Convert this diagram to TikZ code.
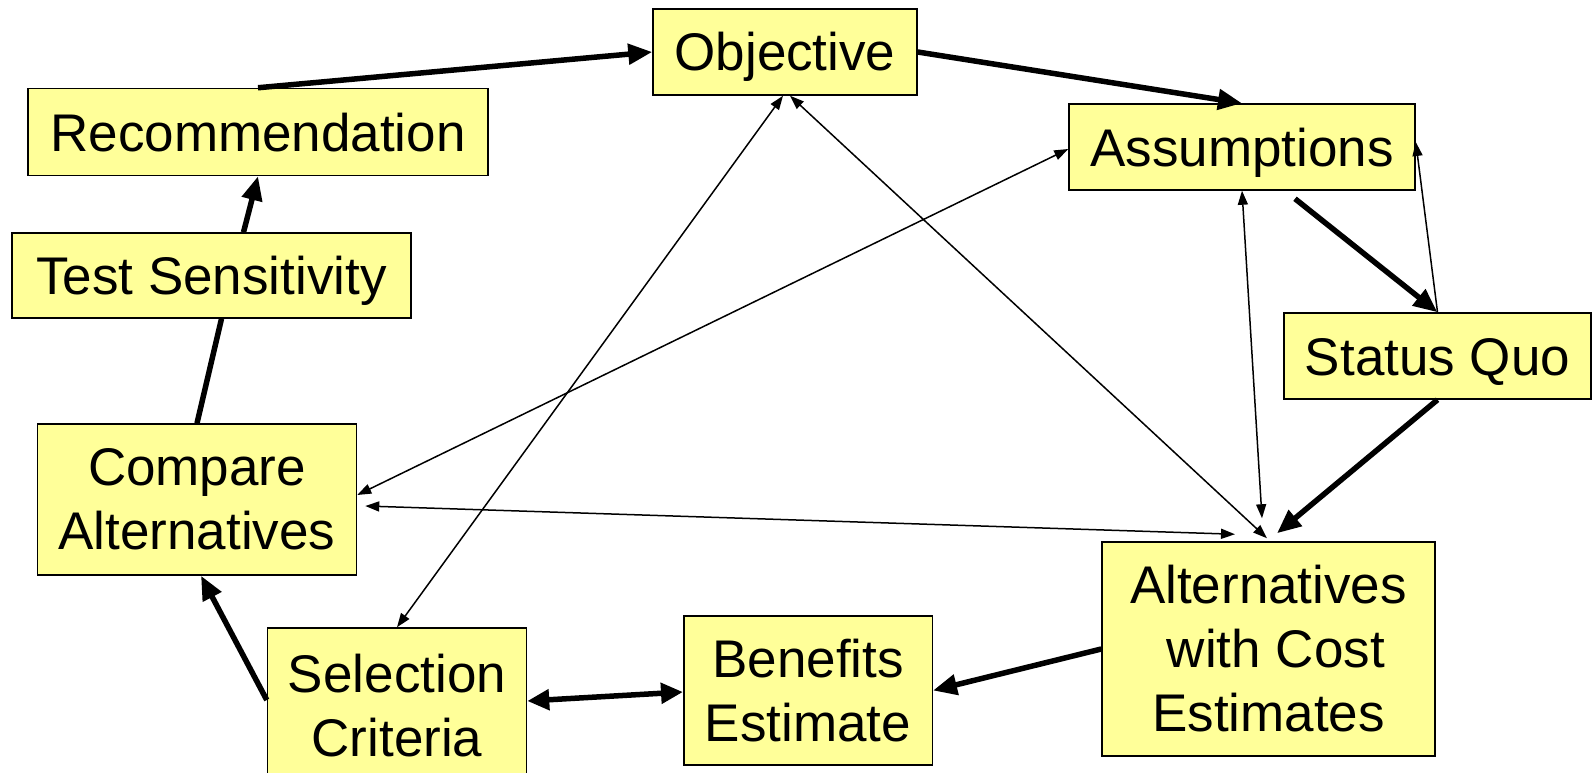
\documentclass[tikz,border=0pt]{standalone}
\usepackage{fontspec}
\setmainfont{Liberation Sans}
\usetikzlibrary{arrows.meta}
\definecolor{boxfill}{RGB}{255,255,153}
\tikzset{
  box/.style={draw=black, line width=1.5pt, fill=boxfill, inner sep=0pt, align=center,
    font=\fontsize{53}{64}\selectfont},
  oneline/.style={text height=38pt, text depth=0pt},
  thick arrow/.style={line width=5.5pt, -{Triangle[length=24pt,width=20pt]}},
  thick line/.style={line width=5.5pt},
  thick both/.style={line width=5.5pt, {Triangle[length=22pt,width=20pt]}-{Triangle[length=22pt,width=20pt]}},
  thin arrow/.style={line width=1.5pt, -{Triangle[length=14pt,width=10pt]}},
  thin both/.style={line width=1.5pt, {Triangle[length=14pt,width=10pt]}-{Triangle[length=14pt,width=10pt]}}
}
\begin{document}
\begin{tikzpicture}[x=1pt,y=-1pt]
\fill[white] (0,0) rectangle (1595,773);
\useasboundingbox (0,0) rectangle (1595,773);
\clip (0,0) rectangle (1595,773);

\node[box, oneline, minimum width=264pt, minimum height=86pt] (obj) at (785,52) {Objective};
\node[box, oneline, minimum width=460pt, minimum height=87pt] (rec) at (258,132) {Recommendation};
\node[box, oneline, minimum width=346pt, minimum height=86pt] (ass) at (1242,147) {Assumptions};
\node[box, oneline, minimum width=399pt, minimum height=85pt] (test) at (211.5,275.5) {Test Sensitivity};
\node[box, oneline, minimum width=307pt, minimum height=86pt] (sq) at (1437.5,356) {Status Quo};
\node[box, minimum width=319pt, minimum height=151pt] (cmp) at (197,499.5) {Compare\\Alternatives};
\node[box, minimum width=333pt, minimum height=214pt] (alt) at (1268.5,649) {Alternatives\\\ with Cost\\Estimates};
\node[box, minimum width=259pt, minimum height=156pt] (sel) at (397,706) {Selection\\Criteria};
\node[box, minimum width=248.5pt, minimum height=149pt] (ben) at (808,690.5) {Benefits\\Estimate};

% thick flow
\draw[thick arrow] (rec.north) -- (obj.west);
\draw[thick arrow] (obj.east) -- (ass.north);
\draw[thick arrow] ([xshift=53pt,yshift=-8pt]ass.south) -- (sq.north);
\draw[thick arrow] (sq.south) -- ([xshift=8.5pt,yshift=8pt]alt.north);
\draw[thick arrow] (alt.west) -- (ben.east);
\draw[thick both] ([yshift=5pt]sel.east) -- ([yshift=-1.5pt]ben.west);
\draw[thick arrow] ([yshift=6pt]sel.west) -- ([xshift=4pt]cmp.south);
\draw[thick line] (cmp.north) -- ([xshift=10pt]test.south);
\draw[thick arrow] ([xshift=32pt]test.north) -- (rec.south);

% thin connections
\draw[thin arrow] (sq.north) -- ([yshift=5pt]ass.east);
\draw[thin both] (ass.south) -- ([xshift=-6.5pt,yshift=23pt]alt.north);
\draw[thin both] ([xshift=5pt]obj.south) -- ([xshift=-1.5pt,yshift=3pt]alt.north);
\draw[thin both] ([xshift=-2pt]obj.south) -- (sel.north);
\draw[thin both] ([yshift=-2pt]ass.west) -- ([yshift=4.5pt]cmp.east);
\draw[thin both] ([xshift=8pt,yshift=-6.5pt]cmp.east) -- ([xshift=-33.5pt,yshift=7pt]alt.north);
\end{tikzpicture}
\end{document}
